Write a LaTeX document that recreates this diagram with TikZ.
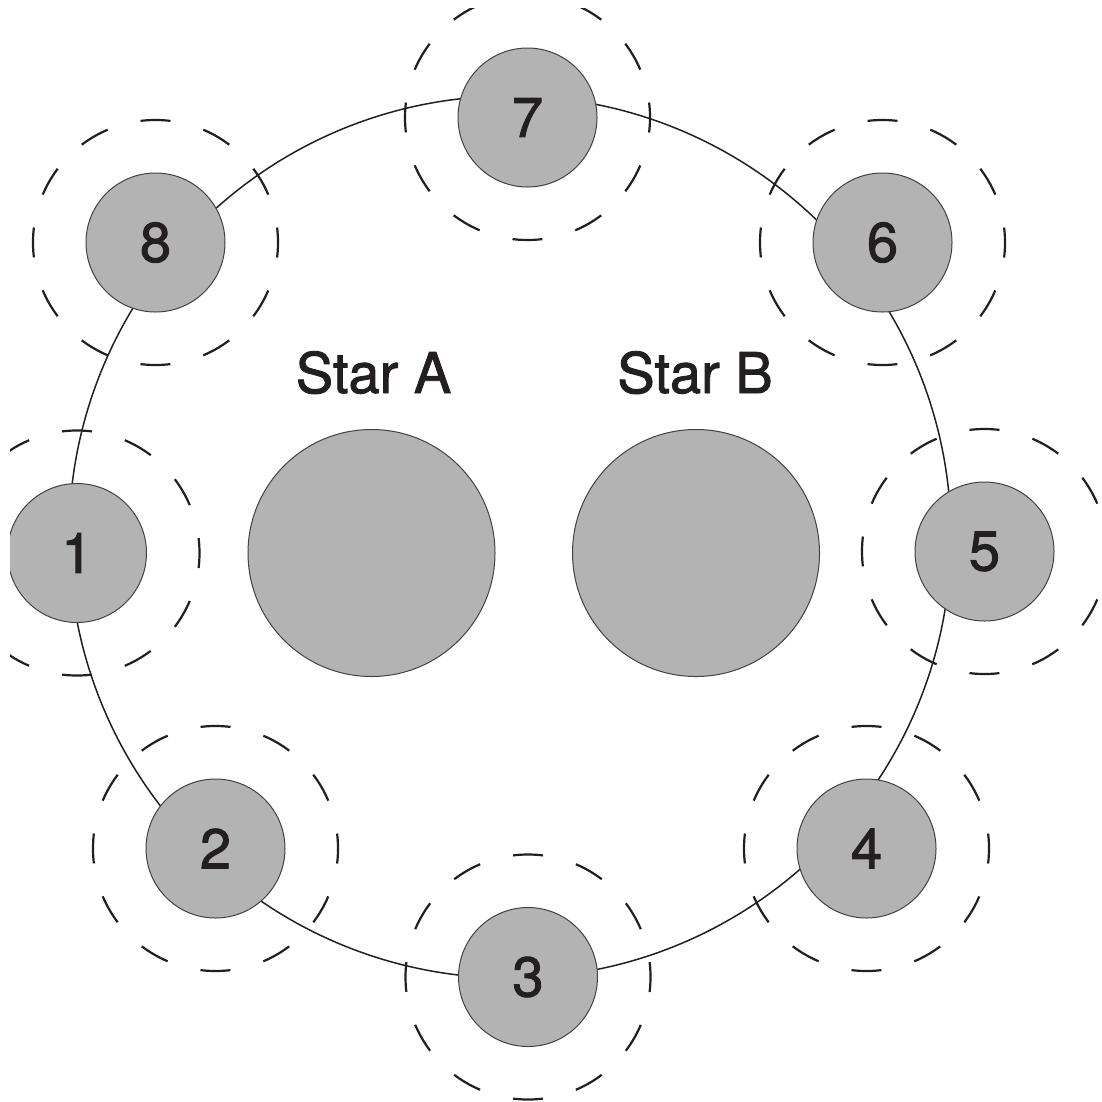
\documentclass[tikz,border=0pt]{standalone}
\usepackage{fontspec}
\setmainfont{TeX Gyre Heros}
\newfontfamily\labfont{TeX Gyre Heros}[FakeBold=1.6]
\definecolor{ink}{HTML}{231F20}
\definecolor{body}{HTML}{B3B3B3}
\begin{document}
\begin{tikzpicture}[x=1pt,y=-1pt,
  orbitline/.style={circle, draw=ink, line width=1.5pt, inner sep=0pt, minimum size=882pt},
  ring/.style={circle, draw=ink, line width=2.2pt, inner sep=0pt, minimum size=245pt,
    dash pattern=on 30pt off 34.14pt, dash phase=15pt},
  planet/.style={circle, draw=ink!85, line width=1pt, fill=body, inner sep=0pt,
    minimum size=139pt, text=ink, font=\labfont\fontsize{56}{60}\selectfont},
  star/.style={circle, draw=ink!85, line width=1pt, fill=body, inner sep=0pt,
    minimum size=247pt},
  lbl/.style={text=ink, font=\labfont\fontsize{56}{60}\selectfont, anchor=base, inner sep=0pt}]
\useasboundingbox (0,0) rectangle (1102,1101);
\clip (10,8) rectangle (1102,1101);
\node[orbitline] (orbit) at (510,537) {};
\foreach \n/\x/\y in {1/77/553, 2/215.5/848.5, 3/528/977, 4/866.5/848.5,
                      5/984.5/551.5, 6/882.5/242.5, 7/527.5/117.5, 8/155.5/242.5}{
  \node[ring] (r\n) at (\x,\y) {};
  \node[planet] (p\n) at (\x,\y) {\n};
}
\node[star] (starA) at (371.5,553) {};
\node[star] (starB) at (696,553) {};
\node[lbl] (labelA) at (373.5,393) {Star A};
\node[lbl] (labelB) at (695,393) {Star B};
\end{tikzpicture}
\end{document}
